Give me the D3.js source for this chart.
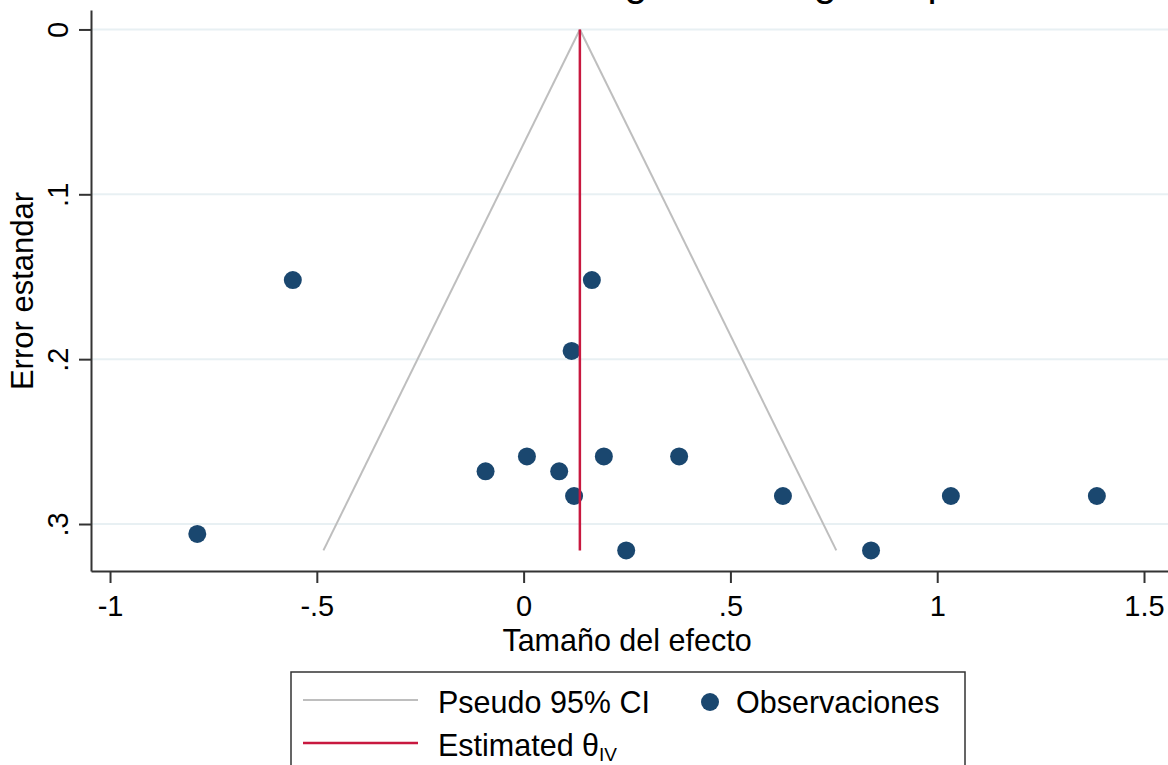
<!DOCTYPE html>
<html>
<head>
<meta charset="utf-8">
<script src="https://cdn.jsdelivr.net/npm/d3@7"></script>
<style>
  body { margin: 0; background: #fff; }
  svg { display: block; font-family: 'Liberation Sans', Arial, sans-serif; }
</style>
</head>
<body>
<div class="chart"></div>
<script>

// effect size and standard error of every study
var effects = [-0.558, 0.165, 0.116, -0.092, 0.008, 0.086, 0.194, 0.376, 0.122, 0.627, 1.033, 1.386, -0.789, 0.248, 0.840];
var stdErrors = [0.152, 0.152, 0.195, 0.268, 0.259, 0.268, 0.259, 0.259, 0.283, 0.283, 0.283, 0.283, 0.306, 0.316, 0.316];

// estimated theta and pseudo 95% CI limits (top and bottom of the funnel)
var theta = 0.136;
var seMax = 0.316;
var ciLeft = [0.136, -0.484];
var ciRight = [0.136, 0.756];
var ciSe = [0, 0.316];

var xTicks = [-1, -0.5, 0, 0.5, 1, 1.5];
var yTicks = [0, 0.1, 0.2, 0.3];

var width = 1168,
  height = 765;

var svg = d3.select('.chart')
  .append('svg')
  .attr('width', width)
  .attr('height', height);

var data = effects.map(function(d, i) { return {x: d, se: stdErrors[i]}; });

//SCALES
var xScale = d3.scaleLinear()
  .domain([-1.046, 1.558])
  .range([91, 1168]);

var yScale = d3.scaleLinear() // standard error grows downwards
  .domain([-0.0118, 0.3285])
  .range([10, 571]);

var fmt = function(d) { // stata style: .5, -.5, plain hyphen
  return d3.format('~g')(d).replace('\u2212', '-').replace(/^(-?)0\./, '$1.');
};

// title, mostly above the picture
svg.append('text')
  .attr('x', 351)
  .attr('y', -4)
  .attr('font-size', 41)
  .attr('fill', '#000')
  .text('Análisis de sesgo en el ingreso por hectárea');

//GRID
svg.selectAll('.grid')
  .data(yTicks)
  .enter()
  .append('line')
  .attr('class', 'grid')
  .attr('x1', 91)
  .attr('x2', width)
  .attr('y1', function(d) { return yScale(d); })
  .attr('y2', function(d) { return yScale(d); })
  .attr('stroke', '#e8f0f3')
  .attr('stroke-width', 2);

//FUNNEL
var line = d3.line()
  .x(function(d) { return xScale(d[0]); })
  .y(function(d) { return yScale(d[1]); });

[ciLeft, ciRight].forEach(function(c) {
  svg.append('path')
    .attr('d', line(ciSe.map(function(s, i) { return [c[i], s]; })))
    .attr('fill', 'none')
    .attr('stroke', '#bebebe')
    .attr('stroke-width', 2);
});

//POINTS
svg.selectAll('.dot')
  .data(data)
  .enter()
  .append('circle')
  .attr('class', 'dot')
  .attr('cx', function(d) { return xScale(d.x); })
  .attr('cy', function(d) { return yScale(d.se); })
  .attr('r', 9)
  .attr('fill', '#1a476f');

// estimated theta
svg.append('line')
  .attr('x1', xScale(theta))
  .attr('x2', xScale(theta))
  .attr('y1', yScale(0))
  .attr('y2', yScale(seMax))
  .attr('stroke', '#c8183f')
  .attr('stroke-width', 2.5);

//AXIS
var xAxis = d3.axisBottom(xScale)
  .tickValues(xTicks)
  .tickFormat(fmt)
  .tickSize(12)
  .tickSizeOuter(0);

var yAxis = d3.axisLeft(yScale)
  .tickValues(yTicks)
  .tickFormat(fmt)
  .tickSize(12)
  .tickSizeOuter(0);

var xAxisG = svg.append('g')
  .attr('transform', 'translate(0,571)')
  .call(xAxis);

xAxisG.selectAll('text')
  .attr('font-size', 29)
  .attr('fill', '#000')
  .attr('dy', null)
  .attr('y', 45);

var yAxisG = svg.append('g')
  .attr('transform', 'translate(91,0)')
  .call(yAxis);

yAxisG.selectAll('text') // rotated tick labels
  .attr('font-size', 29)
  .attr('fill', '#000')
  .attr('x', null)
  .attr('dy', null)
  .attr('text-anchor', 'middle')
  .attr('transform', 'translate(-23,0) rotate(-90)');

svg.selectAll('.domain')
  .attr('stroke', '#333')
  .attr('stroke-width', 2);
svg.selectAll('.tick line')
  .attr('stroke', '#333')
  .attr('stroke-width', 2);

// axis titles
svg.append('text')
  .attr('x', 627)
  .attr('y', 651)
  .attr('text-anchor', 'middle')
  .attr('font-size', 30.5)
  .text('Tamaño del efecto');

svg.append('text')
  .attr('transform', 'translate(33,291) rotate(-90)')
  .attr('text-anchor', 'middle')
  .attr('font-size', 31)
  .text('Error estandar');

//LEGEND
var legend = svg.append('g');

legend.append('rect')
  .attr('x', 291)
  .attr('y', 672)
  .attr('width', 674)
  .attr('height', 120)
  .attr('fill', '#fff')
  .attr('stroke', '#333')
  .attr('stroke-width', 1.5);

legend.append('line')
  .attr('x1', 303).attr('x2', 418)
  .attr('y1', 700).attr('y2', 700)
  .attr('stroke', '#bebebe')
  .attr('stroke-width', 2);

legend.append('text')
  .attr('x', 438).attr('y', 713)
  .attr('font-size', 30.5)
  .text('Pseudo 95% CI');

legend.append('circle')
  .attr('cx', 710).attr('cy', 702)
  .attr('r', 9)
  .attr('fill', '#1a476f');

legend.append('text')
  .attr('x', 736).attr('y', 713)
  .attr('font-size', 30.5)
  .text('Observaciones');

legend.append('line')
  .attr('x1', 303).attr('x2', 418)
  .attr('y1', 743).attr('y2', 743)
  .attr('stroke', '#c8183f')
  .attr('stroke-width', 2.5);

var est = legend.append('text')
  .attr('x', 438).attr('y', 756)
  .attr('font-size', 30.5)
  .text('Estimated θ');
est.append('tspan')
  .attr('font-size', 19)
  .attr('dy', 5)
  .text('IV');

</script>
</body>
</html>
